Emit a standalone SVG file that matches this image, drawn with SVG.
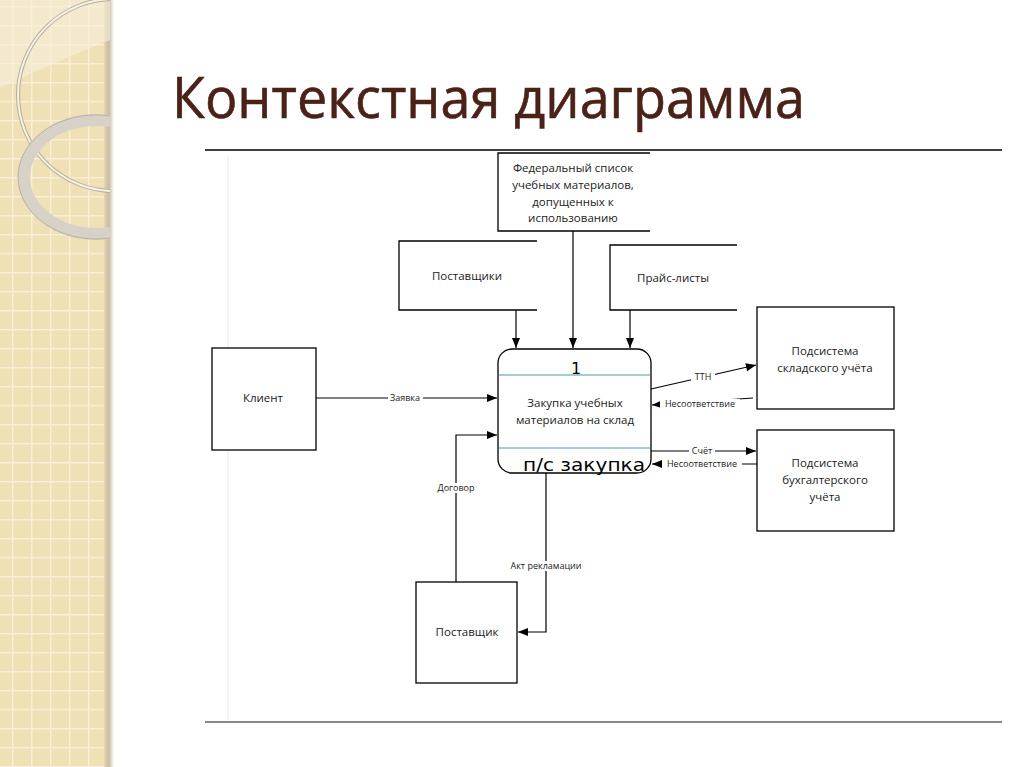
<svg xmlns="http://www.w3.org/2000/svg" width="1024" height="767" viewBox="0 0 1024 767">
<defs>
<pattern id="grid" width="19" height="19" patternUnits="userSpaceOnUse" x="12" y="6">
<rect width="19" height="19" fill="#efe0b6"/>
<path d="M0 0.5H19M0.5 0V19" stroke="#f8efd6" stroke-width="2"/>
</pattern>
<linearGradient id="edge" x1="0" x2="1" y1="0" y2="0">
<stop offset="0" stop-color="#e6d7b0"/>
<stop offset="0.5" stop-color="#c8bba0"/>
<stop offset="1" stop-color="#ffffff"/>
</linearGradient>
<clipPath id="side"><rect x="0" y="0" width="110" height="767"/></clipPath>
<marker id="arr" viewBox="0 0 10 10" refX="10" refY="5" markerWidth="11" markerHeight="10" markerUnits="userSpaceOnUse" orient="auto">
<path d="M0 1L10 5L0 9Z" fill="#000"/>
</marker>
<style>
.box{fill:#fff;stroke:#000;stroke-width:1.3}
.open{fill:none;stroke:#000;stroke-width:1.3}
.t{font-family:"Open Sans","Noto Sans","DejaVu Sans",sans-serif;font-size:11.5px;fill:#222;text-anchor:middle}
.lbl{font-family:"Open Sans","Noto Sans","DejaVu Sans",sans-serif;font-size:9px;fill:#222;text-anchor:middle}
.cm{fill:none;stroke:#000;stroke-width:1.2;marker-end:url(#arr)}
.lb{fill:#fff}
</style>
</defs>
<rect width="1024" height="767" fill="#fff"/>
<g id="sidebar">
<rect x="0" y="0" width="110" height="767" fill="url(#grid)"/>
<rect x="104" y="0" width="10" height="767" fill="url(#edge)"/>
<g clip-path="url(#side)">
<path d="M0 88 Q60 60 110 40 L110 0 L0 0Z" fill="#f7eedb" opacity="0.6"/>
<circle cx="114" cy="95" r="96" fill="none" stroke="#b8ad99" stroke-width="4"/>
<circle cx="114" cy="95" r="96" fill="none" stroke="#f5f2ea" stroke-width="2"/>
<ellipse cx="96" cy="177" rx="72" ry="57" fill="none" stroke="#d6d2c8" stroke-width="12"/>
<ellipse cx="96" cy="177" rx="78" ry="62" fill="none" stroke="#b9b2a4" stroke-width="1"/>
</g>
</g>
<text x="172" y="118" font-family="'Open Sans','Noto Sans',sans-serif" font-size="56" fill="#4a2218" stroke="#4a2218" stroke-width="0.6" textLength="633" lengthAdjust="spacingAndGlyphs">Контекстная диаграмма</text>
<g id="frame">
<line x1="205" y1="150" x2="1002" y2="150" stroke="#000" stroke-width="1.5"/>
<line x1="228" y1="156" x2="228" y2="720" stroke="#e8e8e8" stroke-width="1"/>
<line x1="205" y1="722" x2="1002" y2="722" stroke="#888" stroke-width="2"/>
</g>
<g id="connectors">
<line class="cm" x1="573" y1="231" x2="573" y2="348"/>
<line class="cm" x1="516" y1="310" x2="516" y2="348"/>
<line class="cm" x1="630" y1="310" x2="630" y2="348"/>
<line class="cm" x1="316" y1="398" x2="497" y2="398"/>
<polyline class="cm" points="456,582 456,435 497,435"/>
<polyline class="cm" points="546,473 546,632 518,632"/>
<line class="cm" x1="651" y1="389" x2="756" y2="365"/>
<line class="cm" x1="753" y1="398" x2="652" y2="405"/>
<line class="cm" x1="651" y1="451" x2="756" y2="451"/>
<line class="cm" x1="757" y1="464" x2="652" y2="464"/>
<rect class="lb" x="388" y="393" width="35" height="10"/>
<text class="lbl" x="405" y="401">Заявка</text>
<rect class="lb" x="434" y="483" width="44" height="10"/>
<text class="lbl" x="456" y="491">Договор</text>
<rect class="lb" x="503" y="561" width="86" height="10"/>
<text class="lbl" x="546" y="569">Акт рекламации</text>
<rect class="lb" x="691" y="372" width="24" height="10"/>
<text class="lbl" x="703" y="380">ТТН</text>
<rect class="lb" x="660" y="399" width="80" height="10"/>
<text class="lbl" x="700" y="407">Несоответствие</text>
<rect class="lb" x="689" y="446" width="26" height="10"/>
<text class="lbl" x="702" y="454">Счёт</text>
<rect class="lb" x="662" y="459" width="80" height="10"/>
<text class="lbl" x="702" y="467">Несоответствие</text>
</g>
<g id="fed">
<path class="open" d="M650 153H498V231H650"/>
<text class="t" x="573" y="172">Федеральный список</text>
<text class="t" x="573" y="189">учебных материалов,</text>
<text class="t" x="573" y="206">допущенных к</text>
<text class="t" x="573" y="222">использованию</text>
</g>
<g id="postavshchiki">
<path class="open" d="M537 241H399V310H537"/>
<text class="t" x="467" y="280">Поставщики</text>
</g>
<g id="price">
<path class="open" d="M737 245H610V310H737"/>
<text class="t" x="673" y="282">Прайс-листы</text>
</g>
<g id="client">
<rect class="box" x="212" y="348" width="104" height="102"/>
<text class="t" x="263" y="402">Клиент</text>
</g>
<g id="process">
<rect class="box" x="498" y="349" width="153" height="124" rx="14"/>
<line x1="499" y1="375" x2="650" y2="375" stroke="#4a9aa8" stroke-width="1"/>
<line x1="499" y1="448" x2="650" y2="448" stroke="#4a9aa8" stroke-width="1"/>
<text x="576" y="374" font-family="'DejaVu Sans','Noto Sans',sans-serif" font-size="16" fill="#000" text-anchor="middle">1</text>
<text class="t" x="575" y="407">Закупка учебных</text>
<text class="t" x="575" y="424">материалов на склад</text>
<text x="584" y="471" font-family="'DejaVu Sans','Noto Sans',sans-serif" font-size="18" fill="#000" text-anchor="middle" textLength="122" lengthAdjust="spacingAndGlyphs">п/с закупка</text>
</g>
<g id="sklad">
<rect class="box" x="757" y="307" width="137" height="102"/>
<text class="t" x="825" y="355">Подсистема</text>
<text class="t" x="825" y="372">складского учёта</text>
</g>
<g id="buh">
<rect class="box" x="757" y="430" width="137" height="101"/>
<text class="t" x="825" y="467">Подсистема</text>
<text class="t" x="825" y="484">бухгалтерского</text>
<text class="t" x="825" y="501">учёта</text>
</g>
<g id="postavshchik">
<rect class="box" x="416" y="582" width="101" height="101"/>
<text class="t" x="467" y="636">Поставщик</text>
</g>
</svg>
